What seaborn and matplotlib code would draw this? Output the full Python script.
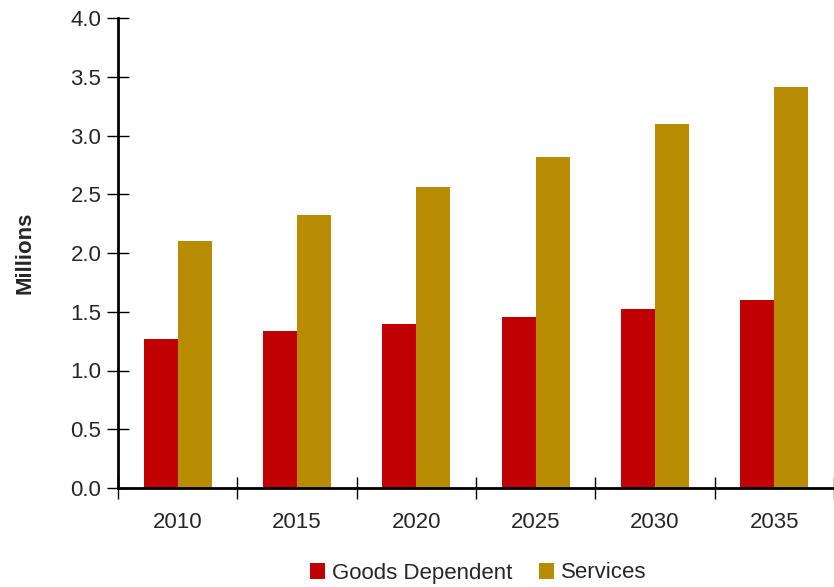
import pandas as pd
import seaborn as sns
import matplotlib.pyplot as plt
from matplotlib import font_manager
import numpy as np

years = ["2010", "2015", "2020", "2025", "2030", "2035"]
goods_dependent = [1.27, 1.335, 1.395, 1.455, 1.525, 1.60]
services = [2.10, 2.32, 2.56, 2.815, 3.10, 3.41]

df = pd.DataFrame({
    "year": years * 2,
    "value": goods_dependent + services,
    "sector": ["Goods Dependent"] * len(years) + ["Services"] * len(years),
})

sns.set_style("ticks")
names = {f.name for f in font_manager.fontManager.ttflist}
family = "Liberation Sans Narrow" if "Liberation Sans Narrow" in names else "Liberation Sans"
plt.rcParams["font.family"] = [family, "DejaVu Sans"]

fig = plt.figure(figsize=(8.34, 5.87), dpi=100)
ax = fig.add_axes([118 / 834, 1 - 488 / 587, 1 - 118 / 834, (488 - 18) / 587])

sns.barplot(data=df, x="year", y="value", hue="sector",
            palette=["#C00000", "#B88C00"], saturation=1, width=0.57, gap=0,
            edgecolor="none", ax=ax)

ax.set_xlim(-0.5, len(years) - 0.5)
ax.set_ylim(0, 4.0)
ax.set_yticks(np.arange(0, 4.01, 0.5))
ax.set_yticklabels([f"{v:.1f}" for v in np.arange(0, 4.01, 0.5)])
ax.set_xticks(np.arange(-0.5, len(years), 1.0), minor=True)
ax.tick_params(axis="x", which="major", length=0, labelsize=16, pad=17)
ax.tick_params(axis="x", which="minor", direction="inout", length=16, width=1.0, color="black")
ax.tick_params(axis="y", direction="inout", length=16, width=1.0, labelsize=16, pad=4, color="black")

for s in ["top", "right"]:
    ax.spines[s].set_visible(False)
for s in ["left", "bottom"]:
    ax.spines[s].set_linewidth(2)
    ax.spines[s].set_color("black")

ax.set_xlabel("")
ax.set_ylabel("Millions", fontsize=16, fontweight="bold", labelpad=25)

ax.legend(loc="center", bbox_to_anchor=(478 / 834, 1 - 573 / 587),
          bbox_transform=fig.transFigure, ncol=2, frameon=False,
          fontsize=16, handlelength=0.7, handleheight=0.7,
          handletextpad=0.3, columnspacing=1.2)

plt.savefig("out.png", dpi=100)
